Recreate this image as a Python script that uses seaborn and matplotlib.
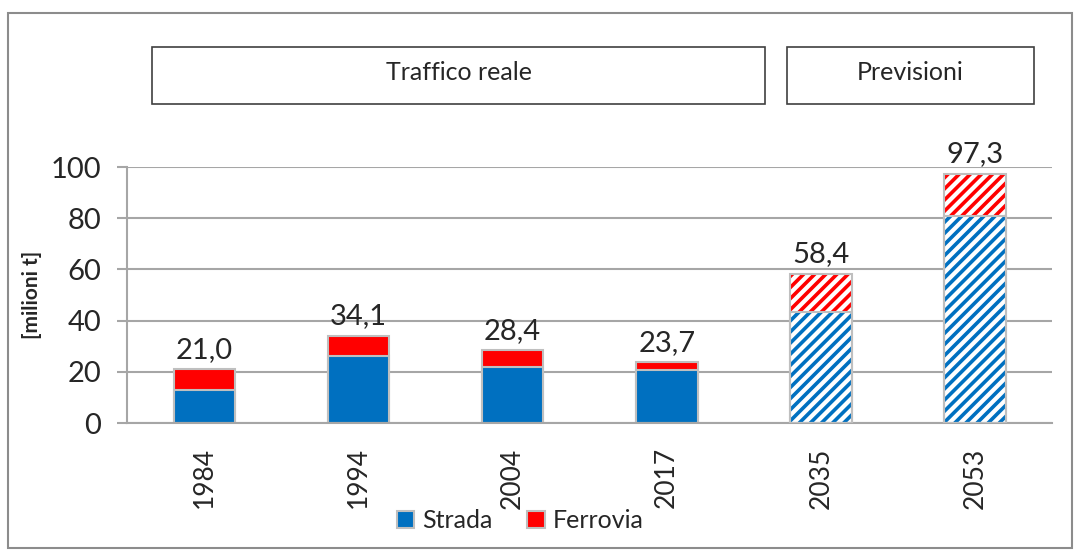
import pandas as pd
import matplotlib.pyplot as plt
import seaborn as sns
import numpy as np
from matplotlib.patches import Rectangle, Patch

# data (milioni t)
years = ["1984", "1994", "2004", "2017", "2035", "2053"]
strada = [13.0, 26.3, 22.0, 20.7, 43.4, 80.9]
ferrovia = [8.0, 7.8, 6.4, 3.0, 15.0, 16.4]
totale = [21.0, 34.1, 28.4, 23.7, 58.4, 97.3]
previsione = [False, False, False, False, True, True]

blue = "#0070c0"
red = "#ff0000"
edge = "#bfbfbf"

df = pd.DataFrame({"anno": years, "strada": strada, "ferrovia": ferrovia, "totale": totale})

sns.set_style("white")
plt.rcParams["font.family"] = ["Lato", "DejaVu Sans"]
plt.rcParams["hatch.linewidth"] = 2.6

fig = plt.figure(figsize=(10.79, 5.53), dpi=100)
ax = fig.add_axes([0.118, 0.235, 0.857, 0.463])

# stacked bars: total (red) behind, strada (blue) in front
sns.barplot(data=df, x="anno", y="totale", color=red, saturation=1, width=0.4, ax=ax)
sns.barplot(data=df, x="anno", y="strada", color=blue, saturation=1, width=0.4, ax=ax)

n = len(years)
for i, p in enumerate(ax.patches):
    col = red if i < n else blue
    if previsione[i % n]:
        p.set_facecolor("white")
        p.set_edgecolor(col)
        p.set_hatch("///")
        p.set_linewidth(0)
    else:
        p.set_edgecolor(edge)
        p.set_linewidth(1.5)
    p.set_zorder(2)

# grey outlines for hatched bars
x = np.arange(n)
for i in range(n):
    if previsione[i]:
        ax.bar(x[i], totale[i], width=0.4, fill=False, edgecolor=edge, linewidth=1.5, zorder=3)
        ax.bar(x[i], strada[i], width=0.4, fill=False, edgecolor=edge, linewidth=1.5, zorder=3)

for i in range(n):
    ax.text(x[i], totale[i] + 2.5, f"{totale[i]:.1f}".replace(".", ","),
            ha="center", va="bottom", fontsize=21, clip_on=False)

ax.set_ylim(0, 100)
ax.set_xlim(-0.5, n - 0.5)
ax.set_yticks(range(0, 101, 20))
ax.yaxis.grid(True, color="#a6a6a6", linewidth=1.5)
ax.set_axisbelow(True)
for s in ["top", "right"]:
    ax.spines[s].set_visible(False)
for s in ["left", "bottom"]:
    ax.spines[s].set_color("#a6a6a6")
    ax.spines[s].set_linewidth(1.5)
ax.tick_params(axis="y", left=True, length=7, width=1.5, color="#a6a6a6", labelsize=21, pad=12)
ax.tick_params(axis="x", bottom=False, labelsize=19, labelrotation=90, pad=14)
ax.set_xlabel("")
ax.set_ylabel("[milioni t]", fontsize=15, fontweight="bold", labelpad=6)

handles = [Patch(facecolor=blue, edgecolor=edge, linewidth=1.5, label="Strada"),
           Patch(facecolor=red, edgecolor=edge, linewidth=1.5, label="Ferrovia")]
fig.legend(handles=handles, loc="center", bbox_to_anchor=(0.482, 0.058), ncol=2, frameon=False,
           fontsize=18, handlelength=0.7, handleheight=0.7, handletextpad=0.3, columnspacing=1.4)

# boxes above plot
for x0, w, txt in [(0.141, 0.568, "Traffico reale"), (0.729, 0.229, "Previsioni")]:
    fig.patches.append(Rectangle((x0, 0.812), w, 0.103, transform=fig.transFigure,
                                 facecolor="white", edgecolor="#404040", linewidth=1.2))
    fig.text(x0 + w / 2, 0.812 + 0.103 / 2 + 0.005, txt, ha="center", va="center", fontsize=18)

# outer frame
fig.patches.append(Rectangle((0.0074, 0.009), 0.986, 0.967, transform=fig.transFigure,
                             fill=False, edgecolor="#8c8c8c", linewidth=1.5))

fig.savefig("out.png", dpi=100)
